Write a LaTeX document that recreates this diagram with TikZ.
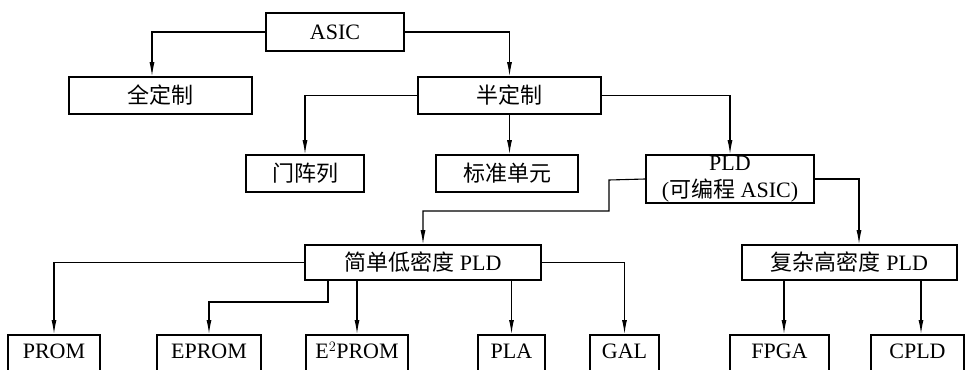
\documentclass[tikz,border=0pt]{standalone}
\usepackage{fontspec}
\setmainfont{Liberation Serif}
\newfontfamily\cjk{Noto Sans CJK SC}
\usetikzlibrary{arrows.meta}
\begin{document}
\begin{tikzpicture}[x=1pt,y=-1pt,
  box/.style={draw, line width=1.6pt, inner sep=0pt, align=center, font=\fontsize{22}{26}\selectfont},
  bot/.style={box, anchor=north, text height=24pt, text depth=14pt},
  arr/.style={line width=1.1pt, -{Latex[length=14pt,width=5pt]}},
  con/.style={line width=1.1pt}]
\useasboundingbox (0,0) rectangle (965,369);
\clip (0,0) rectangle (965,369);
\node[box, minimum width=138pt, minimum height=38pt] (asic) at (335,32) {ASIC};
\node[box, minimum width=183pt, minimum height=37pt] (quan) at (160.5,95.5) {\cjk 全定制};
\node[box, minimum width=183pt, minimum height=37pt] (ban) at (509.5,95.5) {\cjk 半定制};
\node[box, minimum width=118pt, minimum height=37pt] (men) at (305,173.5) {\cjk 门阵列};
\node[box, minimum width=142pt, minimum height=37pt] (biao) at (507,173.5) {\cjk 标准单元};
\node[box, minimum width=168pt, minimum height=48pt, font=\fontsize{22}{27}\selectfont] (pld) at (730,179) {PLD\\({\cjk 可编程} ASIC)};
\node[box, minimum width=236pt, minimum height=35pt] (jian) at (423,262.5) {{\cjk 简单低密度} PLD};
\node[box, minimum width=215pt, minimum height=35pt] (fu) at (849.5,262.5) {{\cjk 复杂高密度} PLD};
\node[bot, minimum width=92pt] (prom) at (54,334) {PROM};
\node[bot, minimum width=104pt] (eprom) at (209,334) {EPROM};
\node[bot, minimum width=102pt] (e2prom) at (357,334) {E$^2$PROM};
\node[bot, minimum width=67pt] (pla) at (511.5,334) {PLA};
\node[bot, minimum width=69pt] (gal) at (624.5,334) {GAL};
\node[bot, minimum width=99pt] (fpga) at (779.5,334) {FPGA};
\node[bot, minimum width=93pt] (cpld) at (917.5,334) {CPLD};
% connectors
\draw[arr] (asic.west) -| ([xshift=-8.5pt]quan.north);
\draw[arr] (asic.east) -| (ban.north);
\draw[arr] (ban.west) -| (men.north);
\draw[arr] (ban.south) -- (ban.south |- biao.north);
\draw[arr] (ban.east) -| (pld.north);
\coordinate (k1) at (609,180);
\coordinate (k2) at (609,211);
\draw[arr] (pld.west) -- (k1) -- (k2) -| (jian.north);
\draw[arr] (pld.east) -| ([xshift=9.5pt]fu.north);
\draw[arr] (jian.west) -| (prom.north);
\coordinate (k3) at (328,302);
\draw[arr] (jian.south -| k3) -- (k3) -| (eprom.north);
\draw[arr] (jian.south -| e2prom.north) -- (e2prom.north);
\draw[arr] (jian.south -| pla.north) -- (pla.north);
\draw[arr] (jian.east) -| (gal.north);
\draw[arr] ([xshift=4.5pt]fu.south -| fpga.north) -- ([xshift=4.5pt]fpga.north);
\draw[arr] ([xshift=3.5pt]fu.south -| cpld.north) -- ([xshift=3.5pt]cpld.north);
\end{tikzpicture}
\end{document}
